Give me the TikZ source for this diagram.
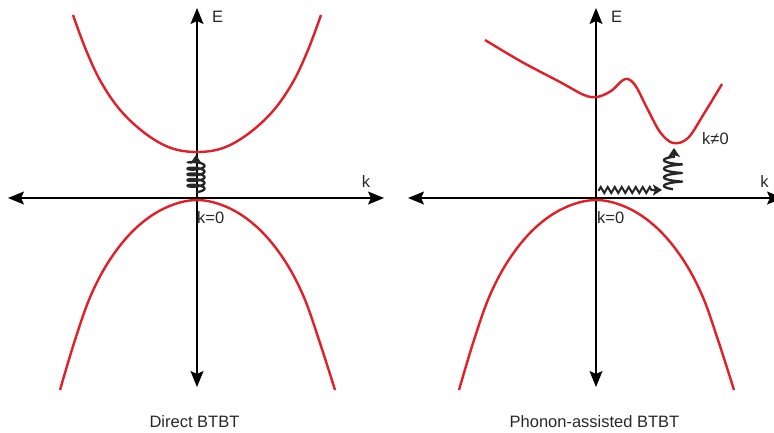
\documentclass[tikz,border=0pt]{standalone}
\usepackage{fontspec}
\setmainfont{Liberation Sans}
\usetikzlibrary{arrows.meta,decorations.pathmorphing}
\definecolor{bandred}{RGB}{228,30,38}
\definecolor{txt}{RGB}{40,40,40}
\begin{document}
\begin{tikzpicture}[x=1pt,y=-1pt,
  axis/.style={line width=1.4pt,-{Stealth[length=16pt,width=13pt,inset=3pt]}},
  band/.style={bandred,line width=2.4pt},
  coilline/.style={line width=2.3pt,black!85,line join=round},
  tipline/.style={line width=2pt,black!85,-{Stealth[length=9pt,width=12pt,inset=2pt]}},
  snakearrow/.style={line width=2pt,black!85,
    decorate,decoration={zigzag,segment length=7pt,amplitude=3pt,pre length=1pt,post length=9pt},
    -{Stealth[length=9pt,width=11pt,inset=2pt]}},
  lbl/.style={font=\fontsize{16.5}{19}\selectfont,text=txt,inner sep=0pt},
  captext/.style={font=\fontsize{16.5}{19}\selectfont,text=txt,inner sep=0pt}]
\useasboundingbox (0,0) rectangle (774,432);
% ---------- left panel ----------
\coordinate (Lo) at (197,198);
\coordinate (Ltop) at (197,8);
\coordinate (Lbot) at (197,387);
\coordinate (Lleft) at (8,198);
\coordinate (Lright) at (384,198);
\draw[axis] (Lo) -- (Ltop);
\draw[axis] (Lo) -- (Lbot);
\draw[axis] (Lo) -- (Lleft);
\draw[axis] (Lo) -- (Lright);
\draw[band] plot[smooth,tension=0.6] coordinates {(73,15) (86,50) (101,82) (121,111) (146,134) (171,148) (197,152) (223,148) (248,134) (273,111) (293,82) (308,50) (321,15)};
\draw[band] plot[smooth,tension=0.6] coordinates {(60,390) (75,340) (91,295) (111,258) (136,228) (165,208) (197,200) (229,208) (258,228) (283,258) (303,295) (319,340) (335,390)};
% coil (direct)
\draw[coilline] plot[domain=0:1710,samples=240,smooth,variable=\t]
  ({196+8.5*sin(\t)},{190-(\t/1710)*27+2.2*cos(\t)});
\coordinate (Lc1) at (196,163);
\coordinate (Lc2) at (196,155);
\draw[tipline] (Lc1) -- (Lc2);
\node[lbl,anchor=west] (LE) at (212,16.5) {E};
\node[lbl,anchor=center] (Lk) at (366,181.5) {k};
\node[lbl,anchor=west] (Lk0) at (197,217.5) {k=0};
\node[captext] (Lcap) at (194.5,422) {Direct BTBT};
% ---------- right panel ----------
\coordinate (Ro) at (596,198);
\coordinate (Rtop) at (596,8);
\coordinate (Rbot) at (596,387);
\coordinate (Rleft) at (408,198);
\coordinate (Rright) at (783,198);
\draw[axis] (Ro) -- (Rtop);
\draw[axis] (Ro) -- (Rbot);
\draw[axis] (Ro) -- (Rleft);
\draw[axis] (Ro) -- (Rright);
\draw[band] plot[smooth,tension=0.6] coordinates {(459,390) (474,340) (490,295) (510,258) (535,228) (564,208) (596,200) (628,208) (657,228) (682,258) (702,295) (718,340) (734,390)};
\draw[band] plot[smooth,tension=0.55] coordinates {(485,40) (522,62) (560,82) (584,95) (597,97) (611,91) (625,79) (635,85) (647,108) (660,132) (673,143) (688,138) (705,112) (722,84)};
\coordinate (Rs1) at (598,190);
\coordinate (Rs2) at (662,190);
\draw[snakearrow] (Rs1) -- (Rs2);
% coil (phonon-assisted)
\draw[coilline] plot[domain=0:1260,samples=220,smooth,variable=\t]
  ({673-9*sin(\t)},{188-(\t/1260)*30+1.2*cos(\t)});
\coordinate (Rc1) at (674,158);
\coordinate (Rc2) at (674,148);
\draw[tipline] (Rc1) -- (Rc2);
\node[lbl,anchor=west] (RE) at (611,16.5) {E};
\node[lbl,anchor=center] (Rk) at (764.5,181.5) {k};
\node[lbl,anchor=west] (Rk0) at (597,217.5) {k=0};
\node[lbl,anchor=west] (Rkn) at (702,139) {k≠0};
\node[captext] (Rcap) at (594.5,422) {Phonon-assisted BTBT};
\end{tikzpicture}
\end{document}
